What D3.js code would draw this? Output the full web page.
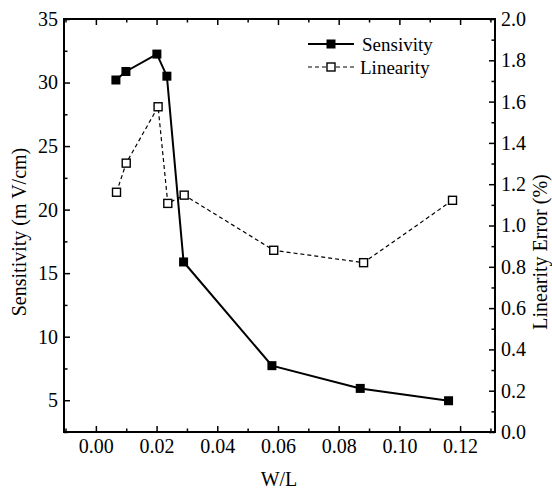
<!DOCTYPE html>
<html><head><meta charset="utf-8">
<script src="https://cdn.jsdelivr.net/npm/d3@7"></script>
<style>body{margin:0;background:#fff}svg{display:block}svg text{font-family:'Liberation Serif','Times New Roman',Times,serif !important;fill:#000}</style>
</head><body><svg id="c" width="552" height="494"></svg>
<script>
const sensX = [0.0066, 0.0099, 0.0201, 0.0234, 0.0289, 0.0580, 0.0871, 0.1162];
const sensitivity = [30.2, 30.87, 32.24, 30.5, 15.88, 7.72, 5.93, 4.96];
const linX = [0.0068, 0.0100, 0.0205, 0.0237, 0.0291, 0.0586, 0.0882, 0.1175];
const linearity = [1.161, 1.302, 1.575, 1.107, 1.147, 0.880, 0.820, 1.122];
const xTicks = [0.00, 0.02, 0.04, 0.06, 0.08, 0.10, 0.12];
const yLeftTicks = [5, 10, 15, 20, 25, 30, 35];
const yRightTicks = [0.0, 0.2, 0.4, 0.6, 0.8, 1.0, 1.2, 1.4, 1.6, 1.8, 2.0];
const seriesNames = ["Sensivity", "Linearity"];

const FONT = "'Liberation Serif','Times New Roman',Times,serif";
const svg = d3.select("#c");
const L = 64, R = 495, T = 19, B = 432;
const x = d3.scaleLinear().domain([-0.0105, 0.1315]).range([L, R]);
const yl = d3.scaleLinear().domain([2.5, 35]).range([B, T]);
const yr = d3.scaleLinear().domain([0, 2]).range([B, T]);

const xMinor = d3.range(-0.01, 0.1316, 0.01).map(v => +v.toFixed(3)).filter(v => !xTicks.some(t => Math.abs(t - v) < 1e-6));
const ylMinor = d3.range(2.5, 35, 5);
const yrMinor = d3.range(0.1, 2, 0.2).map(v => +v.toFixed(2));

const fs = 20;
function styleAxis(g) {
  g.attr("font-family", FONT).attr("font-size", fs);
  g.select(".domain").remove();
  g.selectAll("line").attr("stroke", "#000").attr("stroke-width", 1.5);
  g.selectAll("text").style("font-size", fs + "px").style("font-family", FONT);
}
// bottom
svg.append("g").attr("transform", `translate(0,${B})`)
  .call(d3.axisBottom(x).tickValues(xTicks).tickFormat(d3.format(".2f")).tickSizeInner(-6).tickSizeOuter(0).tickPadding(7))
  .call(styleAxis);
svg.append("g").attr("transform", `translate(0,${B})`)
  .call(d3.axisBottom(x).tickValues(xMinor).tickFormat("").tickSizeInner(-3.5).tickSizeOuter(0)).call(styleAxis);
// top
svg.append("g").attr("transform", `translate(0,${T})`)
  .call(d3.axisTop(x).tickValues(xTicks).tickFormat("").tickSizeInner(-6).tickSizeOuter(0)).call(styleAxis);
svg.append("g").attr("transform", `translate(0,${T})`)
  .call(d3.axisTop(x).tickValues(xMinor).tickFormat("").tickSizeInner(-3.5).tickSizeOuter(0)).call(styleAxis);
// left
svg.append("g").attr("transform", `translate(${L},0)`)
  .call(d3.axisLeft(yl).tickValues(yLeftTicks).tickFormat(d3.format("d")).tickSizeInner(-6).tickSizeOuter(0).tickPadding(6))
  .call(styleAxis);
svg.append("g").attr("transform", `translate(${L},0)`)
  .call(d3.axisLeft(yl).tickValues(ylMinor).tickFormat("").tickSizeInner(-3.5).tickSizeOuter(0)).call(styleAxis);
// right
svg.append("g").attr("transform", `translate(${R},0)`)
  .call(d3.axisRight(yr).tickValues(yRightTicks).tickFormat(d3.format(".1f")).tickSizeInner(-6).tickSizeOuter(0).tickPadding(6))
  .call(styleAxis);
svg.append("g").attr("transform", `translate(${R},0)`)
  .call(d3.axisRight(yr).tickValues(yrMinor).tickFormat("").tickSizeInner(-3.5).tickSizeOuter(0)).call(styleAxis);

// frame
svg.append("rect").attr("x", L).attr("y", T).attr("width", R - L).attr("height", B - T)
  .attr("fill", "none").attr("stroke", "#000").attr("stroke-width", 2);

// titles
function title(sel) { return sel.style("font-family", FONT).style("font-size", "20px").attr("text-anchor", "middle"); }
svg.append("text").attr("x", 279).attr("y", 486).call(title).text("W/L");
svg.append("text").attr("transform", "translate(26,232) rotate(-90)").call(title).text("Sensitivity (m V/cm)");
svg.append("text").attr("transform", "translate(547,252) rotate(-90)").call(title).text("Linearity Error (%)");

// series
const sData = sensX.map((d, i) => [d, sensitivity[i]]);
const lData = linX.map((d, i) => [d, linearity[i]]);
svg.append("path").datum(lData).attr("fill", "none").attr("stroke", "#000").attr("stroke-width", 1.2)
  .attr("stroke-dasharray", "4,3").attr("d", d3.line().x(d => x(d[0])).y(d => yr(d[1])));
svg.append("path").datum(sData).attr("fill", "none").attr("stroke", "#000").attr("stroke-width", 2)
  .attr("d", d3.line().x(d => x(d[0])).y(d => yl(d[1])));
const m = 8;
svg.selectAll(".ls").data(lData).enter().append("rect")
  .attr("x", d => x(d[0]) - m / 2).attr("y", d => yr(d[1]) - m / 2).attr("width", m).attr("height", m)
  .attr("fill", "#fff").attr("stroke", "#000").attr("stroke-width", 1.4);
svg.selectAll(".ss").data(sData).enter().append("rect")
  .attr("x", d => x(d[0]) - m / 2 - 0.5).attr("y", d => yl(d[1]) - m / 2 - 0.5).attr("width", m + 1).attr("height", m + 1)
  .attr("fill", "#000");

// legend
const lg = svg.append("g");
lg.append("line").attr("x1", 308).attr("x2", 354).attr("y1", 44).attr("y2", 44).attr("stroke", "#000").attr("stroke-width", 2);
lg.append("rect").attr("x", 331 - 4.5).attr("y", 44 - 4.5).attr("width", 9).attr("height", 9).attr("fill", "#000");
lg.append("line").attr("x1", 308).attr("x2", 354).attr("y1", 67).attr("y2", 67).attr("stroke", "#000").attr("stroke-width", 1.2).attr("stroke-dasharray", "4,3");
lg.append("rect").attr("x", 331 - 4).attr("y", 67 - 4).attr("width", 8).attr("height", 8).attr("fill", "#fff").attr("stroke", "#000").attr("stroke-width", 1.4);
lg.append("text").attr("x", 362).attr("y", 51).style("font-family", FONT).style("font-size", "19px").text(seriesNames[0]);
lg.append("text").attr("x", 360).attr("y", 74).style("font-family", FONT).style("font-size", "19px").text(seriesNames[1]);
</script></body></html>
